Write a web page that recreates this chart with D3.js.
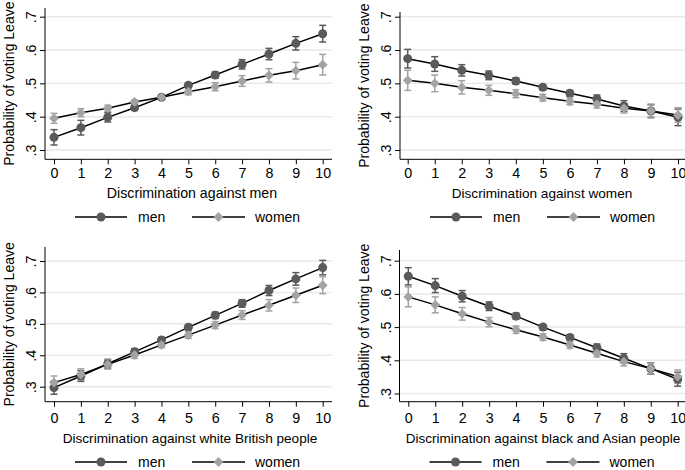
<!DOCTYPE html>
<html>
<head>
<meta charset="utf-8">
<script src="https://cdn.jsdelivr.net/npm/d3@7"></script>
<style>
  body { margin: 0; background: #fff; }
  svg, svg text { font-family: Arial, 'Liberation Sans', Helvetica, sans-serif; }
</style>
</head>
<body>
<svg id="chart" width="685" height="470"></svg>
<script>
// shared categories / ticks
const levels = [0, 1, 2, 3, 4, 5, 6, 7, 8, 9, 10]
const yTicks = [0.3, 0.4, 0.5, 0.6, 0.7]
const yTickLabels = ['.3', '.4', '.5', '.6', '.7']
const seriesNames = ['men', 'women']
const yTitle = 'Probability of voting Leave'
const titles = [
	'Discrimination against men',
	'Discrimination against women',
	'Discrimination against white British people',
	'Discrimination against black and Asian people',
]

// estimates and CI half-widths
const menVsMen = [0.338, 0.367, 0.398, 0.427, 0.458, 0.494, 0.525, 0.557, 0.588, 0.62, 0.649]
const menVsMenCi = [0.023, 0.022, 0.014, 0.008, 0.006, 0.007, 0.009, 0.014, 0.017, 0.02, 0.025]
const womenVsMen = [0.395, 0.412, 0.425, 0.444, 0.458, 0.475, 0.49, 0.507, 0.524, 0.538, 0.556]
const womenVsMenCi = [0.015, 0.012, 0.009, 0.007, 0.006, 0.009, 0.012, 0.016, 0.02, 0.025, 0.031]

const menVsWomen = [0.574, 0.558, 0.539, 0.524, 0.507, 0.488, 0.47, 0.453, 0.432, 0.417, 0.398]
const menVsWomenCi = [0.028, 0.022, 0.017, 0.013, 0.009, 0.008, 0.009, 0.012, 0.016, 0.02, 0.025]
const womenVsWomen = [0.509, 0.5, 0.488, 0.479, 0.469, 0.457, 0.446, 0.437, 0.425, 0.417, 0.405]
const womenVsWomenCi = [0.03, 0.025, 0.02, 0.015, 0.012, 0.01, 0.01, 0.011, 0.014, 0.018, 0.022]

const menVsWhite = [0.297, 0.334, 0.373, 0.411, 0.449, 0.489, 0.527, 0.565, 0.606, 0.643, 0.679]
const menVsWhiteCi = [0.021, 0.017, 0.014, 0.01, 0.008, 0.008, 0.01, 0.012, 0.016, 0.02, 0.023]
const womenVsWhite = [0.313, 0.339, 0.371, 0.401, 0.433, 0.464, 0.496, 0.528, 0.559, 0.591, 0.623]
const womenVsWhiteCi = [0.021, 0.018, 0.015, 0.011, 0.009, 0.01, 0.011, 0.014, 0.018, 0.023, 0.027]

const menVsMinority = [0.653, 0.625, 0.593, 0.563, 0.533, 0.5, 0.469, 0.438, 0.406, 0.375, 0.343]
const menVsMinorityCi = [0.026, 0.021, 0.017, 0.013, 0.009, 0.008, 0.008, 0.011, 0.014, 0.017, 0.021]
const womenVsMinority = [0.591, 0.567, 0.54, 0.515, 0.492, 0.47, 0.446, 0.421, 0.396, 0.375, 0.351]
const womenVsMinorityCi = [0.03, 0.024, 0.019, 0.014, 0.011, 0.01, 0.01, 0.011, 0.013, 0.016, 0.02]

const panelData = [
	[menVsMen, menVsMenCi, womenVsMen, womenVsMenCi],
	[menVsWomen, menVsWomenCi, womenVsWomen, womenVsWomenCi],
	[menVsWhite, menVsWhiteCi, womenVsWhite, womenVsWhiteCi],
	[menVsMinority, menVsMinorityCi, womenVsMinority, womenVsMinorityCi],
]

// layout of each graph (pixels)
const layout = [
	{ axisX: 45, x0: 54, x10: 322.7, right: 332, top: 8, y7: 16.7, y3: 150, bottom: 159.3, tickBase: 178, titleX: 192, titleBase: 198, titleSize: 14.2, legendY: 217 },
	{ axisX: 400, x0: 407.7, x10: 678, right: 687, top: 12, y7: 16.7, y3: 150, bottom: 159.3, tickBase: 178, titleX: 542, titleBase: 198, titleSize: 13.6, legendY: 217 },
	{ axisX: 45, x0: 54, x10: 322.7, right: 332, top: 247, y7: 261, y3: 386.7, bottom: 401.7, tickBase: 423, titleX: 190, titleBase: 443, titleSize: 13.6, legendY: 462 },
	{ axisX: 399.5, x0: 408.3, x10: 677.7, right: 687, top: 250, y7: 260.7, y3: 393.5, bottom: 401.7, tickBase: 423, titleX: 543, titleBase: 443, titleSize: 13.5, legendY: 462 },
]

const menColor = '#5a5a5a'
const womenColor = '#a3a3a3'
const fontSize = '14.3px'
const fontFamily = "Arial, 'Liberation Sans', Helvetica, sans-serif"

const svg = d3.select('#chart')

const diamond = d3.symbol().type(d3.symbolDiamond2).size(62)

function drawMarker(g, kind, x, y, color) {
	if (kind === 0) {
		g.append('circle').attr('cx', x).attr('cy', y).attr('r', 4.5).attr('fill', color)
	} else {
		g.append('path').attr('d', diamond).attr('transform', `translate(${x},${y})`).attr('fill', color)
	}
}

layout.forEach((L, p) => {
	const g = svg.append('g').style('font-family', fontFamily)
	const [menVals, menCi, womenVals, womenCi] = panelData[p]

	const xScale = d3.scaleLinear().domain([0, 10]).range([L.x0, L.x10])
	const yScale = d3.scaleLinear().domain([0.3, 0.7]).range([L.y3, L.y7])

	// gridlines
	g.selectAll('.grid')
		.data(yTicks)
		.join('line')
		.attr('x1', L.axisX)
		.attr('x2', L.right)
		.attr('y1', d => yScale(d))
		.attr('y2', d => yScale(d))
		.attr('stroke', '#e9e9e9')
		.attr('stroke-width', 1.5)

	// y axis
	const yAxis = d3.axisLeft(yScale).tickValues(yTicks).tickFormat((d, i) => yTickLabels[i]).tickSize(5).tickSizeOuter(0)
	const ya = g.append('g').attr('transform', `translate(${L.axisX},0)`).call(yAxis)
	ya.attr('font-family', null)
	ya.select('.domain').remove()
	ya.append('line').attr('x1', 0).attr('x2', 0).attr('y1', L.top).attr('y2', L.bottom).attr('stroke', '#000')
	ya.selectAll('.tick line').attr('stroke', '#000')
	ya.selectAll('.tick text')
		.attr('transform', 'rotate(-90)')
		.attr('x', 0)
		.attr('y', -9)
		.attr('dy', 0)
		.attr('text-anchor', 'middle')
		.attr('fill', '#000')
		.style('font-size', fontSize)

	// x axis
	const xAxis = d3.axisBottom(xScale).tickValues(levels).tickFormat(d3.format('d')).tickSize(5).tickSizeOuter(0)
	const xa = g.append('g').attr('transform', `translate(0,${L.bottom})`).call(xAxis)
	xa.attr('font-family', null)
	xa.select('.domain').remove()
	xa.append('line').attr('x1', L.axisX).attr('x2', L.right).attr('y1', 0).attr('y2', 0).attr('stroke', '#000')
	xa.selectAll('.tick line').attr('stroke', '#000')
	xa.selectAll('.tick text')
		.attr('y', L.tickBase - L.bottom)
		.attr('dy', 0)
		.attr('fill', '#000')
		.style('font-size', fontSize)

	// axis titles
	g.append('text')
		.attr('transform', `translate(${L.axisX - 31},${(L.top + L.bottom) / 2}) rotate(-90)`)
		.attr('text-anchor', 'middle')
		.style('font-size', '14px')
		.text(yTitle)
	g.append('text')
		.attr('x', L.titleX)
		.attr('y', L.titleBase)
		.attr('text-anchor', 'middle')
		.style('font-size', L.titleSize + 'px')
		.text(titles[p])

	// confidence intervals
	const series = [
		{ vals: menVals, ci: menCi, color: menColor },
		{ vals: womenVals, ci: womenCi, color: womenColor },
	]
	series.forEach(s => {
		const eg = g.append('g').attr('stroke', s.color).attr('stroke-width', 1.5)
		levels.forEach((lv, i) => {
			const x = xScale(lv)
			const lo = yScale(s.vals[i] - s.ci[i])
			const hi = yScale(s.vals[i] + s.ci[i])
			eg.append('line').attr('x1', x).attr('x2', x).attr('y1', lo).attr('y2', hi)
			eg.append('line').attr('x1', x - 3.5).attr('x2', x + 3.5).attr('y1', lo).attr('y2', lo)
			eg.append('line').attr('x1', x - 3.5).attr('x2', x + 3.5).attr('y1', hi).attr('y2', hi)
		})
	})

	// lines and markers
	const line = d3.line().x((d, i) => xScale(levels[i])).y(d => yScale(d))
	series.forEach((s, k) => {
		g.append('path').attr('d', line(s.vals)).attr('fill', 'none').attr('stroke', '#000').attr('stroke-width', 1.5)
		levels.forEach((lv, i) => drawMarker(g, k, xScale(lv), yScale(s.vals[i]), s.color))
	})

	// legend
	const lx = L.axisX + 30
	const items = [
		{ x1: lx, x2: lx + 52, tx: lx + 63, color: menColor },
		{ x1: lx + 117, x2: lx + 170, tx: lx + 180, color: womenColor },
	]
	items.forEach((it, k) => {
		g.append('line').attr('x1', it.x1).attr('x2', it.x2).attr('y1', L.legendY).attr('y2', L.legendY).attr('stroke', '#000').attr('stroke-width', 1.5)
		drawMarker(g, k, (it.x1 + it.x2) / 2, L.legendY, it.color)
		g.append('text')
			.attr('x', it.tx)
			.attr('y', L.legendY + 5)
			.style('font-size', '14px')
			.text(seriesNames[k])
	})
})
</script>
</body>
</html>
